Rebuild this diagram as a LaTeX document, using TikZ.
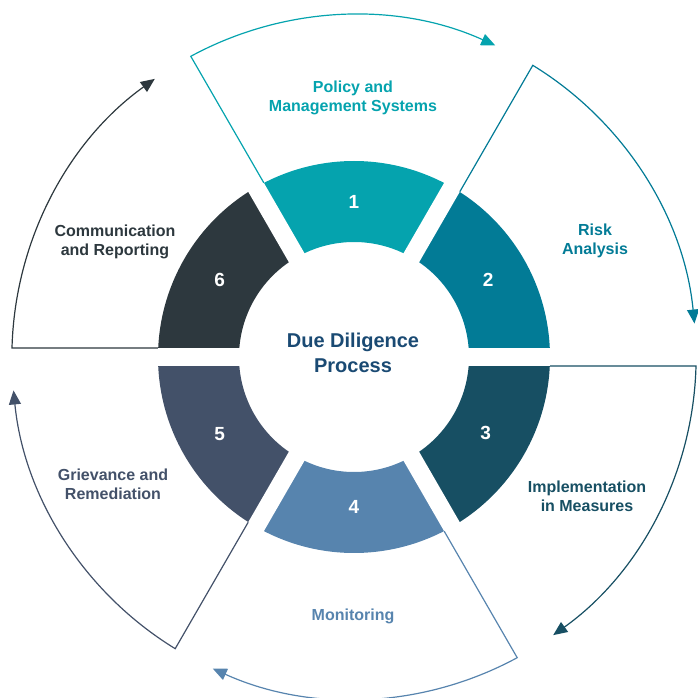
\documentclass[tikz,border=0pt]{standalone}
\usepackage{fontspec}
\setmainfont{Liberation Sans}
\usepackage{tikz}
\usetikzlibrary{arrows.meta,calc}

\definecolor{stepA}{HTML}{05A3AE}
\definecolor{stepB}{HTML}{027B96}
\definecolor{stepC}{HTML}{174F63}
\definecolor{stepD}{HTML}{5784AE}
\definecolor{stepE}{HTML}{435169}
\definecolor{stepF}{HTML}{2D383E}
\definecolor{hubText}{HTML}{1A4A73}

\begin{document}
\begin{tikzpicture}[x=1pt, y=1pt]
        \tikzstyle{stepLabel} = [align=center, font=\bfseries\fontsize{16}{19}\selectfont]
        \tikzstyle{stepNum} = [text=white, font=\bfseries\fontsize{19}{19}\selectfont]
        \tikzstyle{hubLabel} = [align=center, text=hubText, font=\bfseries\fontsize{20}{25}\selectfont]
        \tikzstyle{loopArrow} = [line width=1.2pt, -{Triangle[length=14pt,width=12pt]}]
        \useasboundingbox (-354,-341) rectangle (343,357);
        % ring parts, then the white gaps between them
        \foreach \a/\c in {90/stepA, 30/stepB, -30/stepC, -90/stepD, -150/stepE, 150/stepF}
            \fill[\c] (\a+30:196) arc[start angle=\a+30, end angle=\a-30, radius=196]
                -- (\a-30:115) arc[start angle=\a-30, end angle=\a+30, radius=115] -- cycle;
        \foreach \a in {0,60,...,300}
            \draw[white, line width=18pt] (\a:100) -- (\a:205);
        % outer loops
        \foreach \a/\c in {90/stepA, 30/stepB, -30/stepC, -90/stepD, -150/stepE, 150/stepF}
            \draw[loopArrow, \c] ($(\a+30:196)+(\a-60:9)$) -- ($(\a+30:342)+(\a-60:9)$)
                arc[start angle=\a+28.5, end angle=\a-24.4, radius=342];
        \node[stepNum] (1) at (90:155) {1};
        \node[stepNum] (2) at (30:155) {2};
        \node[stepNum] (3) at (-30:152) {3};
        \node[stepNum] (4) at (-90:150) {4};
        \node[stepNum] (5) at (-150:155) {5};
        \node[stepNum] (6) at (150:155) {6};
        \node[stepLabel, text=stepA] (policy) at (-1,259) {Policy and\\Management Systems};
        \node[stepLabel, text=stepB] (risk) at (241,116) {Risk\\Analysis};
        \node[stepLabel, text=stepC] (measures) at (233,-139) {Implementation\\in Measures};
        \node[stepLabel, text=stepD] (monitoring) at (-1,-259) {Monitoring};
        \node[stepLabel, text=stepE] (grievance) at (-241,-127) {Grievance and\\Remediation};
        \node[stepLabel, text=stepF] (reporting) at (-239,115) {Communication\\and Reporting};
        \node[hubLabel] (process) at (-1,4) {Due Diligence\\Process};
    \end{tikzpicture}
\end{document}
